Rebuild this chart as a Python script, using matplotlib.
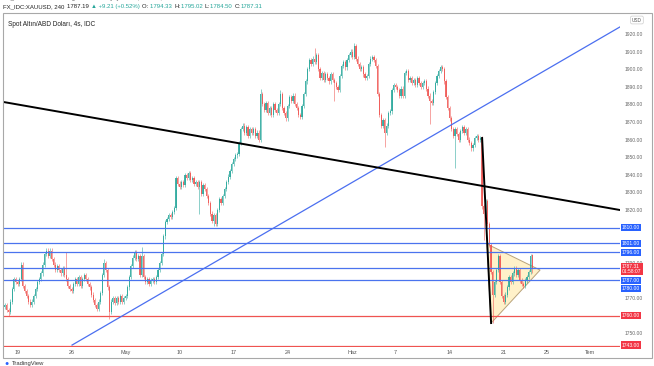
import numpy as np
import matplotlib
matplotlib.use('Agg')
from matplotlib import pyplot as plt
from matplotlib.patches import Rectangle, Polygon
from matplotlib.transforms import blended_transform_factory

plt.rcParams['font.family'] = ['Liberation Sans', 'DejaVu Sans']

# 4 saatlik mumlar, bar 0 = 19 Nisan 2021 ilk mumu (6 mum / gün)
first_bar = -7
closes = [1766, 1763, 1762, 1768, 1775, 1781, 1779,
          1778, 1781, 1789, 1777, 1774, 1771, 1768, 1766, 1768, 1771,
          1775, 1779, 1781, 1784, 1789, 1795, 1797, 1794, 1797, 1792,
          1789, 1786, 1788, 1786, 1784, 1787, 1783, 1781, 1777, 1775,
          1774, 1778, 1781, 1778, 1782, 1777, 1781, 1783, 1781, 1778,
          1776, 1772, 1769, 1766, 1764, 1768, 1773, 1783, 1790, 1786,
          1776, 1762, 1768, 1770, 1767, 1770, 1768, 1771, 1768, 1770,
          1771, 1776, 1782, 1788, 1793, 1796, 1792, 1794, 1783, 1794,
          1782, 1779, 1781, 1778, 1780, 1781, 1779, 1782, 1786, 1790,
          1795, 1805, 1813, 1815, 1817, 1816, 1819, 1821, 1838, 1835,
          1833, 1836, 1834, 1840, 1838, 1841, 1837, 1838, 1835, 1836,
          1833, 1836, 1829, 1834, 1832, 1828, 1824, 1818, 1814, 1817,
          1812, 1820, 1826, 1824, 1828, 1832, 1836, 1839, 1842, 1846,
          1849, 1851, 1852, 1858, 1866, 1868, 1864, 1867, 1862, 1866,
          1864, 1866, 1862, 1864, 1860, 1886, 1880, 1877, 1881, 1875,
          1878, 1874, 1880, 1877, 1875, 1880, 1886, 1878, 1875, 1872,
          1879, 1884, 1882, 1885, 1880, 1878, 1874, 1873, 1879, 1886,
          1893, 1900, 1905, 1903, 1906, 1904, 1908, 1900, 1895, 1898,
          1894, 1897, 1895, 1893, 1897, 1894, 1892, 1890, 1888, 1896,
          1902, 1904, 1901, 1905, 1908, 1910, 1907, 1913, 1906, 1903,
          1900, 1901, 1897, 1895, 1896, 1903, 1906, 1907, 1905, 1902,
          1886, 1874, 1868, 1871, 1864, 1868, 1875, 1876, 1888, 1891,
          1890, 1888, 1885, 1889, 1885, 1898, 1899, 1894, 1895, 1892,
          1894, 1891, 1895, 1892, 1890, 1892, 1893, 1889, 1885, 1882,
          1881, 1887, 1892, 1896, 1899, 1901, 1900, 1893, 1884, 1878,
          1872, 1866, 1862, 1866, 1863, 1860, 1865, 1867, 1864, 1866,
          1860, 1858, 1855, 1857, 1861, 1862, 1860, 1861, 1822, 1818,
          1825, 1812, 1800, 1785, 1772, 1779, 1786, 1794, 1779, 1771,
          1768, 1772, 1776, 1782, 1779, 1784, 1787, 1783, 1786, 1780,
          1778, 1777, 1780, 1782, 1785, 1794, 1787.31]
first_open = 1765
last_open = 1794.33
wick_pad = 1.2  # fitil payı
big_highs = {27: 1796, 48: 1792, 69: 1799, 135: 1889, 146: 1888, 165: 1912,
             187: 1915, 267: 1795, 285: 1795, 286: 1795.02}
big_lows = {-5: 1760, 51: 1758, 101: 1818, 109: 1811, 176: 1882, 204: 1856,
            229: 1869, 243: 1844, 259: 1803, 264: 1756, 286: 1784.50}

# çizimler
h_blue = [1810, 1801, 1796, 1787, 1780]
h_red = [1760, 1743]
black_trend = ([-8.06, 334.7], [1881.4, 1820.0])
blue_trend = ([30.3, 334.7], [1743.3, 1924.0])
drop_line = ([258.1, 263.1], [1860.9, 1755.8])
triangle = [(260.8, 1800.7), (290.3, 1785.9), (263.1, 1755.8)]

tick_pos = [0, 30, 60, 90, 120, 150, 186, 210, 240, 270, 294, 318]
tick_lab = ['19', '26', 'May', '10', '17', '24', 'Haz', '7', '14', '21', '25', 'Tem']
price_ticks = [1920, 1910, 1900, 1890, 1880, 1870, 1860, 1850, 1840, 1830, 1820,
               1790, 1770, 1750]
# sağ eksen etiketleri (metin, konum, renk)
blue_c = '#2962ff'
red_c = '#f23645'
axis_boxes = [('1810.00', 1810, blue_c), ('1801.00', 1801, blue_c),
              ('1796.00', 1796, blue_c), ('1787.31\n01:58:07', 1786.6, red_c),
              ('1787.00', 1779.9, blue_c), ('1780.00', 1775.4, blue_c),
              ('1760.00', 1760, red_c), ('1743.00', 1743.2, red_c)]
# üst bilgi satırı (metin, renk)
header = [('FX_IDC:XAUUSD, 240 ', '#222222'), ('1787.19 ', '#222222'),
          ('▲ +9.21 (+0.52%) ', '#26a69a'), ('O: ', '#222222'), ('1794.33 ', '#26a69a'),
          ('H:', '#222222'), ('1795.02 ', '#26a69a'), ('L:', '#222222'),
          ('1784.50 ', '#26a69a'), ('C:', '#222222'), ('1787.31', '#26a69a')]

W, H = 654, 366
def fx(x): return x / W
def fy(y): return 1 - y / H

fig = plt.figure(figsize=(W / 100, H / 100), dpi=100)
ax = fig.add_axes([fx(3), fy(347), (620 - 3) / W, (347 - 13) / H])
ax.set_xlim(-8.06, 334.7)
ax.set_ylim(1742.2, 1931.9)

bars = np.arange(first_bar, first_bar + len(closes))
c = np.array(closes, dtype=float)
o = np.concatenate([[first_open], c[:-1]])
o[-1] = last_open
hi = np.maximum(o, c) + wick_pad
lo = np.minimum(o, c) - wick_pad
for b, v in big_highs.items():
    hi[b - first_bar] = v
for b, v in big_lows.items():
    lo[b - first_bar] = v
col = np.where(c >= o, '#26a69a', '#ef5350')

ax.add_patch(Polygon(triangle, closed=True, fc='#fff1c9', ec='#b8a27a', lw=0.7, zorder=1))
ax.vlines(bars, lo, hi, colors=col, lw=0.5, alpha=0.75, zorder=2)
ax.bar(bars, np.maximum(np.abs(c - o), 0.5), bottom=np.minimum(o, c), width=0.65,
       color=col, lw=0, alpha=0.85, zorder=2)

for p in h_blue:
    ax.axhline(p, color='#4a73ee', lw=0.9, zorder=3)
for p in h_red:
    ax.axhline(p, color='#ef5350', lw=0.9, zorder=3)
ax.plot(*blue_trend, color='#4b6ff0', lw=0.9, zorder=3)
ax.plot(*black_trend, color='black', lw=1.4, zorder=4)
ax.plot(*drop_line, color='black', lw=1.4, zorder=4)

for s in ax.spines.values():
    s.set_visible(False)
ax.set_xticks(tick_pos, tick_lab)
ax.tick_params(axis='x', length=0, pad=2.5, labelsize=3.9, labelcolor='#555555')
ax.yaxis.tick_right()
ax.set_yticks(price_ticks, [f'{p:.2f}' for p in price_ticks])
ax.tick_params(axis='y', length=0, pad=3.5, labelsize=3.6, labelcolor='#666666')
# 1790 etiketi kırmızı kutunun üstüne kaydırılıyor
for lab in ax.get_yticklabels():
    if lab.get_text() == '1790.00':
        lab.set_y(1792.4)

tr = blended_transform_factory(ax.transAxes, ax.transData)
for txt, p, cc in axis_boxes:
    ax.text(1.003, p, txt, transform=tr, ha='left', va='center', fontsize=3.6,
            color='white', linespacing=1.0, clip_on=False, zorder=6,
            bbox=dict(boxstyle='square,pad=0.25', fc=cc, ec='none'))

# çerçeve ve başlıklar
fig.add_artist(Rectangle((fx(3), fy(358)), fx(652) - fx(3), fy(13) - fy(358),
                         transform=fig.transFigure, fill=False, ec='#a8a8a8', lw=0.8))
fig.text(fx(3), fy(-1.5), "FX_IDC tarafından TradingView.com'da yayınlandı, Haz 23, 2021 06:01 UTC",
         fontsize=4.3, color='#444444', va='center')

renderer = fig.canvas.get_renderer()
xpos = 3
for txt, cc in header:
    t = fig.text(fx(xpos), fy(6.5), txt, fontsize=4.3, color=cc, va='center')
    xpos += t.get_window_extent(renderer).width + 0.6

fig.text(fx(8), fy(24), 'Spot Altın/ABD Doları, 4s, IDC', fontsize=4.7, color='#222222', va='center')
fig.text(fx(632), fy(20), 'USD', fontsize=3.4, color='#555555', va='center',
         bbox=dict(boxstyle='round,pad=0.3', fc='white', ec='#cccccc', lw=0.5))
fig.text(fx(4), fy(363.5), '●', fontsize=5, color=blue_c, va='center')
fig.text(fx(12), fy(363.5), 'TradingView', fontsize=4.2, color='#333333', va='center')

fig.savefig('out.png', dpi=100)
